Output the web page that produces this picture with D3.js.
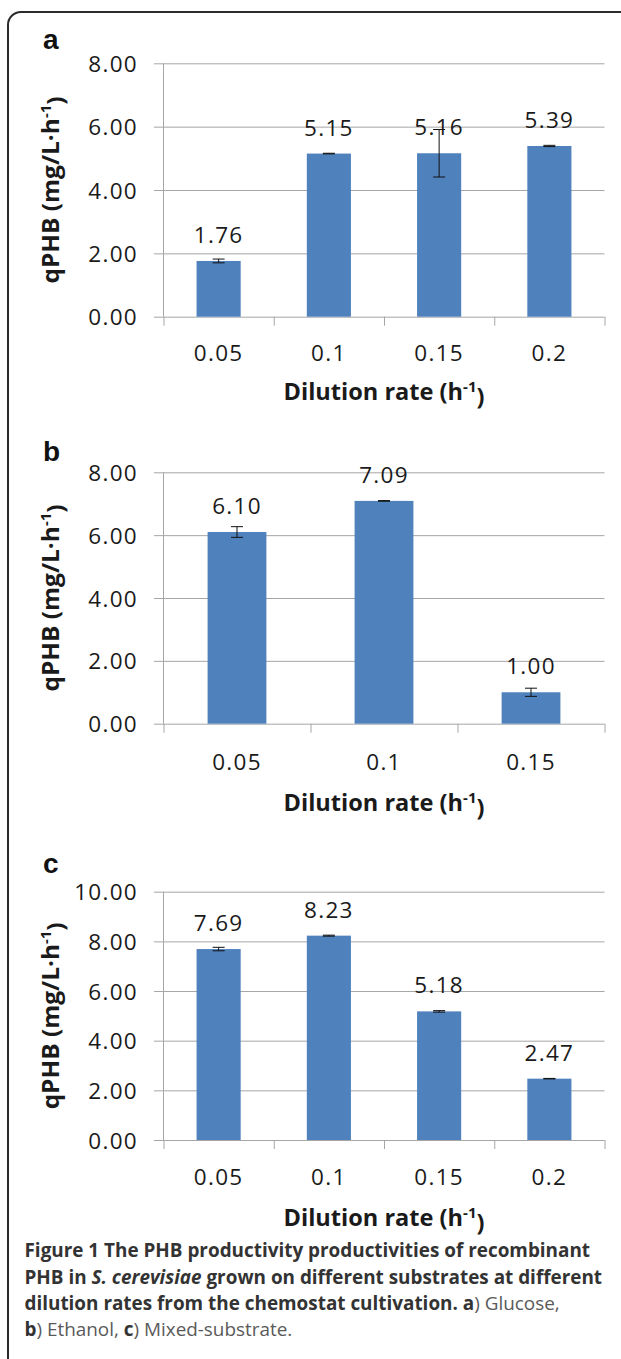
<!DOCTYPE html>
<html>
<head>
<meta charset="utf-8">
<script src="https://cdn.jsdelivr.net/npm/d3@7"></script>
<style>
  body { margin: 0; background: #fff; }
  svg { display: block; }
</style>
</head>
<body>
<div id="chart"></div>
<script>
// data
var catsA = ["0.05", "0.1", "0.15", "0.2"];
var valsA = [1.76, 5.15, 5.16, 5.39];
var errA = [0.06, 0.01, 0.75, 0.02];

var catsB = ["0.05", "0.1", "0.15"];
var valsB = [6.10, 7.09, 1.00];
var errB = [0.17, 0.01, 0.13];

var catsC = ["0.05", "0.1", "0.15", "0.2"];
var valsC = [7.69, 8.23, 5.18, 2.47];
var errC = [0.07, 0.02, 0.03, 0.01];

var ticksAB = [0, 2, 4, 6, 8];
var ticksC = [0, 2, 4, 6, 8, 10];

var width = 621, height = 1359;
var fmt = d3.format(".2f");
var gridCol = "#a6a6a6";
var barCol = "#4f81bd";
var txtCol = "#1a1a1a";

var svg = d3.select("#chart").append("svg")
    .attr("width", width)
    .attr("height", height);

// frame: top line + left line with rounded corner
svg.append("path")
    .attr("d", "M621,12 H21 A13,13 0 0 0 8,25 V1359")
    .attr("fill", "none")
    .attr("stroke", "#2b2b2b")
    .attr("stroke-width", 2);

// number text style (ticks, values)
function numStyle(sel) {
    sel.attr("fill", txtCol)
        .style("font-family", "'Open Sans'")
        .style("font-size", "22.5px")
        .style("letter-spacing", "1.3px");
}

function drawPanel(p) {
    var left = 163.5, right = 604.5;
    var g = svg.append("g");

    var x = d3.scaleBand().domain(p.cats).range([left, right]).paddingInner(0.6).paddingOuter(0.3);
    var y = d3.scaleLinear().domain([0, p.ticks[p.ticks.length - 1]]).range([p.bottom, p.top]);

    // gridlines + y tick labels
    var yAxis = g.append("g")
        .attr("transform", "translate(" + right + ",0)")
        .call(d3.axisLeft(y).tickValues(p.ticks).tickSize(right - 154).tickPadding(16).tickFormat(fmt));
    yAxis.select(".domain").remove();
    yAxis.selectAll(".tick line").attr("stroke", gridCol);
    yAxis.selectAll(".tick text").call(numStyle).attr("dy", "0.36em");

    // y axis line
    g.append("line")
        .attr("x1", left).attr("x2", left)
        .attr("y1", p.top).attr("y2", p.bottom)
        .attr("stroke", gridCol);

    // category boundary ticks
    var n = p.cats.length;
    var xb = d3.scaleLinear().domain([0, n]).range([left, right]);
    var xTicks = g.append("g")
        .attr("transform", "translate(0," + p.bottom + ")")
        .call(d3.axisBottom(xb).ticks(n).tickSize(9).tickFormat(""));
    xTicks.select(".domain").remove();
    xTicks.selectAll(".tick line").attr("stroke", gridCol);

    // category labels
    g.selectAll(".cat")
        .data(p.cats)
        .enter().append("text")
        .attr("x", d => x(d) + x.bandwidth() / 2)
        .attr("y", p.tickY)
        .attr("text-anchor", "middle")
        .call(numStyle)
        .text(d => d);

    // bars
    g.selectAll(".bar")
        .data(p.vals)
        .enter().append("rect")
        .attr("x", (d, i) => x(p.cats[i]))
        .attr("y", d => y(d))
        .attr("width", x.bandwidth())
        .attr("height", d => p.bottom - y(d))
        .attr("fill", barCol);

    // error bars
    var eb = g.selectAll(".err")
        .data(p.vals)
        .enter().append("g")
        .attr("stroke", "#111")
        .attr("stroke-width", 1);
    eb.append("line")
        .attr("x1", (d, i) => x(p.cats[i]) + x.bandwidth() / 2)
        .attr("x2", (d, i) => x(p.cats[i]) + x.bandwidth() / 2)
        .attr("y1", (d, i) => y(d + p.errs[i]))
        .attr("y2", (d, i) => y(d - p.errs[i]));
    [1, -1].forEach(function(s) {
        eb.append("line")
            .attr("x1", (d, i) => x(p.cats[i]) + x.bandwidth() / 2 - 6)
            .attr("x2", (d, i) => x(p.cats[i]) + x.bandwidth() / 2 + 6)
            .attr("y1", (d, i) => y(d + s * p.errs[i]))
            .attr("y2", (d, i) => y(d + s * p.errs[i]));
    });

    // value labels
    g.selectAll(".val")
        .data(p.vals)
        .enter().append("text")
        .attr("x", (d, i) => x(p.cats[i]) + x.bandwidth() / 2)
        .attr("y", d => y(d) - 18)
        .attr("text-anchor", "middle")
        .call(numStyle)
        .text(d => fmt(d));

    // panel letter
    g.append("text")
        .attr("x", 43)
        .attr("y", p.letterY)
        .attr("fill", "#111")
        .style("font-family", "'Liberation Sans', Arial")
        .style("font-weight", "bold")
        .style("font-size", "28px")
        .text(p.letter);

    // y title
    var yt = g.append("text")
        .attr("transform", "translate(59," + (p.top + p.bottom) / 2 + ") rotate(-90)")
        .attr("text-anchor", "middle")
        .attr("fill", txtCol)
        .attr("textLength", 187)
        .attr("lengthAdjust", "spacingAndGlyphs")
        .style("font-family", "'Open Sans'")
        .style("font-weight", "bold")
        .style("font-size", "23px");
    yt.append("tspan").text("qPHB (mg/L\u00b7h");
    yt.append("tspan").attr("dy", "-0.55em").style("font-size", "14px").text("-1");
    yt.append("tspan").attr("dy", "0.55em").text(")");

    // x title
    var xt = g.append("text")
        .attr("x", (left + right) / 2)
        .attr("y", p.titleY)
        .attr("text-anchor", "middle")
        .attr("fill", txtCol)
        .attr("textLength", 201)
        .attr("lengthAdjust", "spacingAndGlyphs")
        .style("font-family", "'Open Sans'")
        .style("font-weight", "bold")
        .style("font-size", "23.5px");
    xt.append("tspan").text("Dilution rate (h");
    xt.append("tspan").attr("dy", "-0.55em").style("font-size", "15px").text("-1");
    xt.append("tspan").attr("dy", "0.55em").text(")");
}

drawPanel({letter: "a", cats: catsA, vals: valsA, errs: errA, ticks: ticksAB,
    top: 63.3, bottom: 316.7, tickY: 361, titleY: 400, letterY: 49});
drawPanel({letter: "b", cats: catsB, vals: valsB, errs: errB, ticks: ticksAB,
    top: 472.3, bottom: 723.7, tickY: 770, titleY: 811, letterY: 461});
drawPanel({letter: "c", cats: catsC, vals: valsC, errs: errC, ticks: ticksC,
    top: 891.7, bottom: 1140, tickY: 1185, titleY: 1226, letterY: 873});

// caption
var capLines = [
    [["b", "Figure 1 The PHB productivity productivities of recombinant"]],
    [["b", "PHB in "], ["bi", "S. cerevisiae"], ["b", " grown on different substrates at different"]],
    [["b", "dilution rates from the chemostat cultivation. "], ["b", "a"], ["r", ") Glucose,"]],
    [["b", "b"], ["r", ") Ethanol, "], ["b", "c"], ["r", ") Mixed-substrate."]]
];
var capY = [1257, 1283.5, 1310, 1336];

capLines.forEach(function(line, i) {
    var t = svg.append("text")
        .attr("x", 24.5)
        .attr("y", capY[i])
        .style("font-family", "'Open Sans'")
        .style("font-size", "18.9px");
    line.forEach(function(part) {
        t.append("tspan")
            .attr("fill", part[0] == "r" ? "#5a5a5a" : "#333")
            .style("font-weight", part[0] == "r" ? "normal" : "bold")
            .style("font-style", part[0] == "bi" ? "italic" : "normal")
            .text(part[1]);
    });
});
</script>
</body>
</html>
